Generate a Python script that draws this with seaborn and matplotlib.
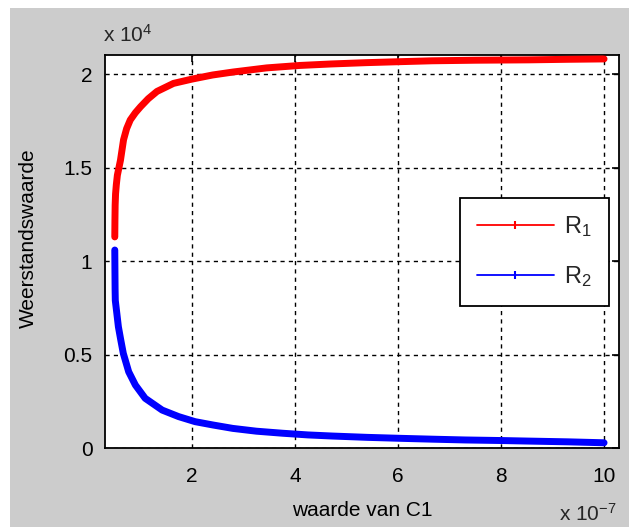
import matplotlib
matplotlib.use("Agg")
import matplotlib.pyplot as plt
from matplotlib.lines import Line2D
from matplotlib.patches import Rectangle
import pandas as pd
import seaborn as sns

# Capacitor value C1 (F) and the two resistor values (ohm)
c1_r1 = [0.500e-7, 0.503e-7, 0.507e-7, 0.515e-7, 0.53e-7, 0.55e-7, 0.58e-7, 0.61e-7,
         0.67e-7, 0.73e-7, 0.80e-7, 0.90e-7, 1.00e-7, 1.15e-7, 1.32e-7, 1.64e-7,
         2.0e-7, 2.4e-7, 2.8e-7, 3.45e-7, 4.09e-7, 4.7e-7, 5.38e-7, 6.0e-7,
         6.66e-7, 7.5e-7, 8.54e-7, 9.3e-7, 10.0e-7]
r1 = [11300, 12200, 13000, 13600, 14100, 14600, 15000, 15400,
      16500, 17100, 17560, 17950, 18270, 18700, 19090, 19520,
      19750, 19970, 20130, 20350, 20480, 20560, 20630, 20680,
      20730, 20760, 20780, 20810, 20830]

c1_r2 = [0.500e-7, 0.503e-7, 0.506e-7, 0.51e-7, 0.54e-7, 0.57e-7, 0.615e-7, 0.665e-7,
         0.77e-7, 0.90e-7, 1.09e-7, 1.42e-7, 1.74e-7, 2.06e-7, 2.41e-7, 2.79e-7,
         3.25e-7, 3.76e-7, 4.25e-7, 4.73e-7, 5.4e-7, 6.02e-7, 6.7e-7, 7.31e-7,
         8.0e-7, 8.54e-7, 9.3e-7, 10.0e-7]
r2 = [10600, 9500, 8500, 7900, 7200, 6490, 5800, 5070,
      4080, 3370, 2660, 2030, 1680, 1410, 1230, 1050,
      900, 790, 700, 640, 570, 520, 470, 430,
      400, 370, 330, 280]

series_names = ["R$_1$", "R$_2$"]
x_ticks = [2e-7, 4e-7, 6e-7, 8e-7, 10e-7]
x_tick_labels = ["2", "4", "6", "8", "10"]
y_ticks = [0, 5000, 10000, 15000, 20000]
y_tick_labels = ["0", "0.5", "1", "1.5", "2"]

df1 = pd.DataFrame({"C1": c1_r1, "R": r1})
df2 = pd.DataFrame({"C1": c1_r2, "R": r2})

sns.set_theme(style="white")
plt.rcParams["font.family"] = ["Liberation Sans", "DejaVu Sans"]
plt.rcParams["mathtext.fontset"] = "custom"
plt.rcParams["mathtext.rm"] = "Liberation Sans"
plt.rcParams["mathtext.it"] = "Liberation Sans:italic"
plt.rcParams["mathtext.default"] = "regular"

W, H = 629, 527
fig = plt.figure(figsize=(W / 100, H / 100), dpi=100)
fig.patch.set_facecolor("white")
fig.patches.append(Rectangle((10 / W, 0), 1 - 10 / W, 1 - 8 / H,
                             transform=fig.transFigure, facecolor="#cccccc",
                             edgecolor="none", zorder=-10))

ax = fig.add_axes([105 / W, 79 / H, 514 / W, 393 / H])
ax.set_facecolor("white")

sns.lineplot(data=df1, x="C1", y="R", ax=ax, color="#ff0000", lw=5,
             estimator=None, sort=False, legend=False, zorder=3)
sns.lineplot(data=df2, x="C1", y="R", ax=ax, color="#0000ff", lw=5,
             estimator=None, sort=False, legend=False, zorder=3)

ax.set_xlim(0.31e-7, 10.29e-7)
ax.set_ylim(0, 21040)
ax.set_xticks(x_ticks)
ax.set_xticklabels(x_tick_labels)
ax.set_yticks(y_ticks)
ax.set_yticklabels(y_tick_labels)

fs = 15
ax.tick_params(axis="both", direction="in", length=5, width=1.2, color="black",
               labelsize=fs, labelcolor="black", top=True, right=True)
ax.tick_params(axis="x", pad=14)
ax.tick_params(axis="y", pad=9)

ax.grid(True, color="black", linestyle=(0, (3, 3)), linewidth=1.0, zorder=1)
for s in ax.spines.values():
    s.set_visible(True)
    s.set_color("black")
    s.set_linewidth(1.3)

ax.set_xlabel("waarde van C1", fontsize=fs, color="black")
ax.xaxis.set_label_coords(0.5, (448 - 510) / 393)
ax.xaxis.label.set_va("center")
ax.set_ylabel("Weerstandswaarde", fontsize=fs, color="black")
ax.yaxis.set_label_coords((28 - 105) / 514, (448 - 238) / 393)
ax.yaxis.label.set_va("center")

# Exponent multipliers for both axes
fig.text(103 / W, 1 - 35 / H, r"x 10$^{4}$", fontsize=fs, ha="left", va="center")
fig.text(617 / W, 1 - 514 / H, r"x 10$^{-7}$", fontsize=fs, ha="right", va="center")

lfs = 17
handles = [Line2D([], [], color="#ff0000", lw=1.3, marker="|", ms=6, mew=1.5),
           Line2D([], [], color="#0000ff", lw=1.3, marker="|", ms=6, mew=1.5)]
leg = ax.legend(handles, series_names, loc="upper left",
                bbox_to_anchor=(460 / W, 1 - 198 / H), bbox_transform=fig.transFigure,
                fontsize=lfs, frameon=True, fancybox=False, framealpha=1,
                edgecolor="black", facecolor="white", borderaxespad=0,
                borderpad=0.7, handlelength=3.3, handletextpad=0.42, labelspacing=1.06,
                markerfirst=True)
leg.get_frame().set_linewidth(1.3)
leg.set_zorder(5)

fig.savefig("out.png", dpi=100, facecolor=fig.get_facecolor())
